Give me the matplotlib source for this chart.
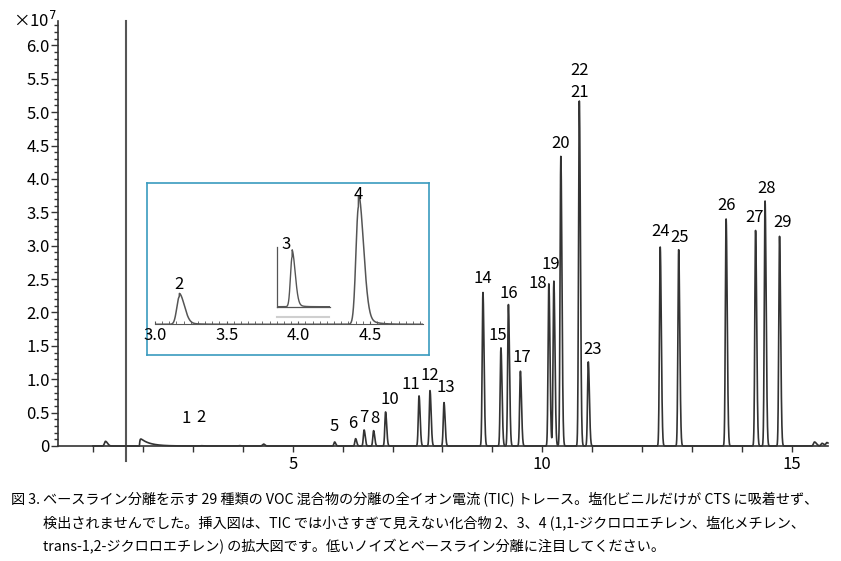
import numpy as np
import matplotlib
matplotlib.use("Agg")
import matplotlib.pyplot as plt
from matplotlib.ticker import MultipleLocator, FuncFormatter, FixedLocator

plt.rcParams['font.family'] = ['Noto Sans CJK JP', 'DejaVu Sans']

LINE = '#333333'
BOX = '#3a9bbf'

# main trace peaks (retention time in min, height in 1e7 counts)
peak_labels = ['1', '2', '3', '4', '5', '6', '7', '8', '10', '11', '12', '13', '14', '15', '16', '17',
               '18', '19', '20', '22\n21', '23', '24', '25', '26', '27', '28', '29']
peak_times = [2.86, 3.17, 3.93, 4.42, 5.84, 6.26, 6.43, 6.62, 6.86, 7.53, 7.75, 8.03, 8.81, 9.17, 9.32, 9.56,
              10.13, 10.23, 10.37, 10.74, 10.92, 12.36, 12.73, 13.68, 14.27, 14.46, 14.75]
peak_heights = [0.0, 0.004, 0.006, 0.02, 0.06, 0.11, 0.24, 0.23, 0.51, 0.75, 0.83, 0.65, 2.30, 1.47, 2.12, 1.12,
                2.43, 2.47, 4.34, 5.17, 1.26, 2.98, 2.94, 3.40, 3.23, 3.67, 3.14]
# label offsets from apex, in points
label_dx = [0, 0, 0, 0, 0, -2, 0, 1, 3, -6, 0, 1, 0, -2, 0, 1, -8, -2, 0, 0, 3, 0, 1, 0, -1, 1, 2]
label_dy = [20, 20, 0, 0, 11, 11, 9, 9, 9, 8, 11, 11, 10, 9, 8, 10, 0, 12, 9, 14, 9, 11, 9, 10, 9, 9, 10]
shown = [True, True, False, False] + [True] * 23

# non-labelled baseline features
bump_times = [1.25, 4.40, 15.45, 15.60, 15.70]
bump_heights = [0.07, 0.01, 0.06, 0.04, 0.05]
solvent_time = 1.93
solvent_height = 0.13

# inset: compounds 2 and 4 (relative units), 3 in its own small panel
inset_times = [3.17, 4.42]
inset_heights = [0.235, 1.0]
inset_labels = ['2', '4']
sub_time = 3.93
sub_height = 0.83


def peak(t, t0, h, sl, sr):
    s = np.where(t < t0, sl, sr)
    return h * np.exp(-0.5 * ((t - t0) / s) ** 2)


t = np.linspace(1.0, 15.72, 9000)
y = np.zeros_like(t)
for t0, h in zip(peak_times, peak_heights):
    y += peak(t, t0, h, 0.015, 0.022)
for t0, h in zip(bump_times, bump_heights):
    y += peak(t, t0, h, 0.02, 0.04)
tail = np.where(t >= solvent_time, np.exp(-(t - solvent_time) / 0.18), 0)
y += solvent_height * tail * (1 - np.exp(-np.clip(t - solvent_time, 0, None) / 0.01))

fig = plt.figure(figsize=(8.41, 5.61), dpi=100)
ax = fig.add_axes([0.0690, 0.2050, 0.9155, 0.7581])
ax.plot(t, y, color=LINE, lw=1.2, clip_on=False)
ax.plot([1.67, 1.67], [-0.22, 6.37], color='#555555', lw=1.5, clip_on=False)
ax.set_xlim(0.3, 15.72)
ax.set_ylim(0, 6.37)
for s in ['top', 'right']:
    ax.spines[s].set_visible(False)
for s in ['left', 'bottom']:
    ax.spines[s].set_color(LINE)
    ax.spines[s].set_linewidth(1.2)
ax.xaxis.set_major_locator(FixedLocator([5, 10, 15]))
ax.xaxis.set_minor_locator(MultipleLocator(1))
ax.yaxis.set_major_locator(MultipleLocator(0.5))
ax.yaxis.set_minor_locator(MultipleLocator(0.1))
ax.yaxis.set_major_formatter(FuncFormatter(lambda v, p: '0' if abs(v) < 1e-9 else f'{v:.1f}'))
ax.tick_params(axis='both', which='both', color=LINE, labelsize=12, width=1)
ax.tick_params(axis='y', which='major', length=5, pad=1)
ax.tick_params(axis='y', which='minor', length=3)
ax.tick_params(axis='x', which='both', length=4, pad=3)
ax.text(-0.002, 1.0, r'×10$^{7}$', transform=ax.transAxes, ha='right', va='center', fontsize=12)

for lab, t0, h, dx, dy, sh in zip(peak_labels, peak_times, peak_heights, label_dx, label_dy, shown):
    if not sh:
        continue
    ax.annotate(lab, (t0, h), xytext=(dx, dy), textcoords='offset points',
                ha='center', va='center', fontsize=12, linespacing=1.35)

# inset frame
frame = fig.add_axes([147 / 841, 1 - 355 / 561, 282 / 841, 172 / 561])
frame.set_xticks([])
frame.set_yticks([])
frame.patch.set_alpha(0)
for s in frame.spines.values():
    s.set_color(BOX)
    s.set_linewidth(1.2)

ti = np.linspace(3.0, 4.87, 2000)
yi = np.zeros_like(ti)
for t0, h in zip(inset_times, inset_heights):
    yi += peak(ti, t0, h, 0.018, 0.035)
    yi += 0.12 * h * np.where(ti > t0, np.exp(-(ti - t0) / 0.06), 0)

axi = fig.add_axes([155 / 841, 1 - 324.3 / 561, 268 / 841, 129.3 / 561])
axi.patch.set_alpha(0)
axi.plot(ti, yi, color='#555555', lw=1.1)
axi.set_xlim(3.0, 4.87)
axi.set_ylim(0, 1.1)
for s in ['top', 'right', 'left']:
    axi.spines[s].set_visible(False)
axi.spines['bottom'].set_color('#555555')
axi.set_yticks([])
axi.xaxis.set_major_locator(MultipleLocator(0.5))
axi.xaxis.set_minor_locator(MultipleLocator(0.05))
axi.xaxis.set_major_formatter(FuncFormatter(lambda v, p: f'{v:.1f}'))
axi.tick_params(axis='x', which='both', direction='in', length=2, color='#555555', labelsize=12, pad=2)
for lab, t0, h in zip(inset_labels, inset_times, inset_heights):
    axi.annotate(lab, (t0, h), xytext=(0, 9), textcoords='offset points',
                 ha='center', va='center', fontsize=12, annotation_clip=False)

ts = np.linspace(3.82, 4.2, 500)
ys = peak(ts, sub_time, sub_height, 0.012, 0.022) + 0.12 * np.where(ts > sub_time, np.exp(-(ts - sub_time) / 0.03), 0)
axs = fig.add_axes([276.7 / 841, 1 - 306.7 / 561, 53.3 / 841, 60 / 561])
axs.patch.set_alpha(0)
axs.plot(ts, ys, color='#555555', lw=1.0)
axs.plot([3.82, 4.19], [-0.167, -0.167], color='#cfcfcf', lw=1.5, clip_on=False)
axs.set_xlim(3.82, 4.2)
axs.set_ylim(0, 1)
axs.set_xticks([])
axs.set_yticks([])
for s in ['top', 'right']:
    axs.spines[s].set_visible(False)
for s in ['left', 'bottom']:
    axs.spines[s].set_color('#555555')
    axs.spines[s].set_linewidth(0.9)
axs.annotate('3', (sub_time, sub_height), xytext=(-4, 9), textcoords='offset points',
             ha='center', va='center', fontsize=12, annotation_clip=False)

caption = ['ベースライン分離を示す 29 種類の VOC 混合物の分離の全イオン電流 (TIC) トレース。塩化ビニルだけが CTS に吸着せず、',
           '検出されませんでした。挿入図は、TIC では小さすぎて見えない化合物 2、3、4 (1,1-ジクロロエチレン、塩化メチレン、',
           'trans-1,2-ジクロロエチレン) の拡大図です。低いノイズとベースライン分離に注目してください。']
fig.text(11 / 841, 1 - 500 / 561, '図 3.', fontsize=10.2, va='center', ha='left')
for i, line in enumerate(caption):
    fig.text(43 / 841, 1 - (500 + 23.5 * i) / 561, line, fontsize=10.2, va='center', ha='left')

fig.savefig('out.png', dpi=100)
